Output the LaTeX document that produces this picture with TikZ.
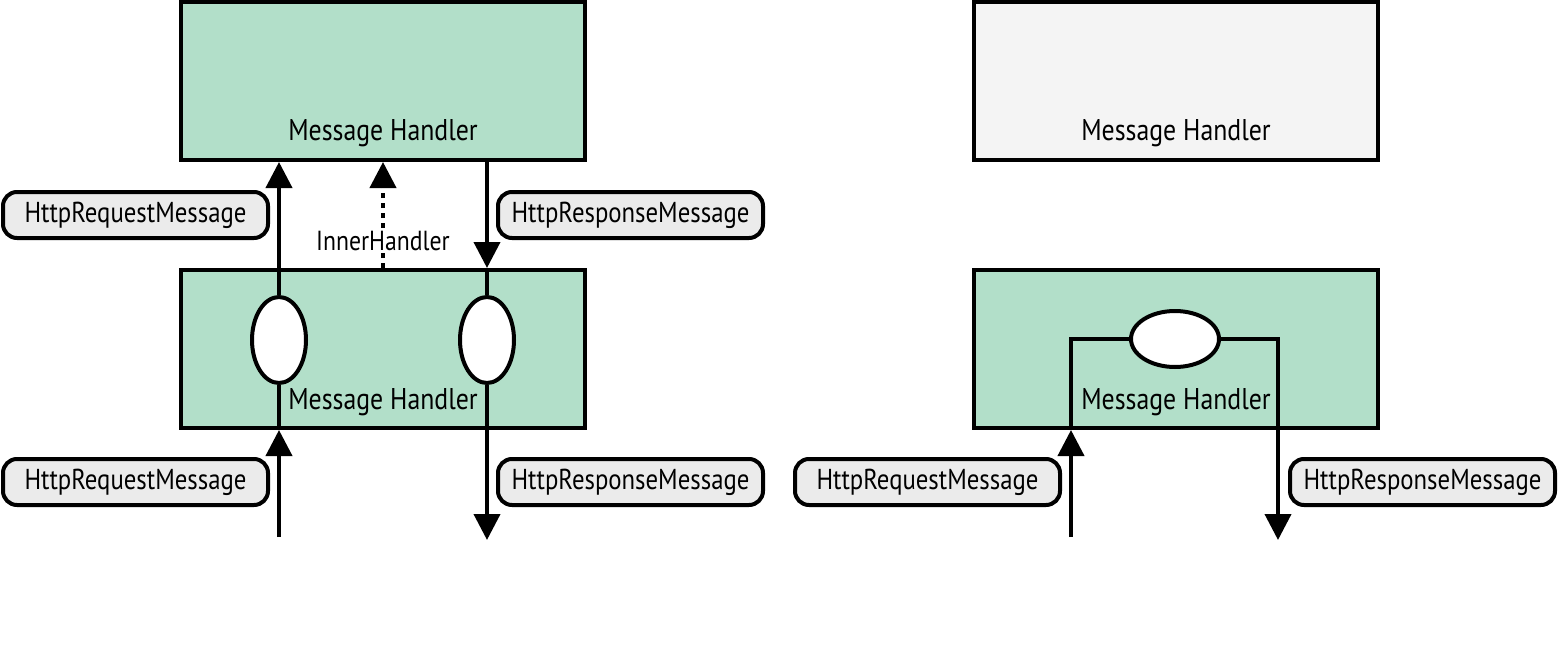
\documentclass[tikz,border=0pt]{standalone}
\usepackage{fontspec}
\setmainfont{PT Sans}[FakeStretch=0.86]
\usetikzlibrary{arrows.meta,shapes.geometric}
\definecolor{mhgreen}{HTML}{B2DFC9}
\definecolor{mhgray}{HTML}{F4F4F4}
\definecolor{pillgray}{HTML}{EBEBEB}
\tikzset{
  handler/.style={draw,line width=2pt,minimum width=202pt,minimum height=79pt,inner sep=0pt},
  pill/.style={draw,line width=2pt,rounded corners=7pt,fill=pillgray,minimum width=132.5pt,minimum height=23pt,inner sep=0pt,font=\fontsize{14.4}{16}\selectfont},
  lbl/.style={font=\fontsize{15}{17}\selectfont,inner sep=0pt},
  small/.style={font=\fontsize{13.8}{16}\selectfont},
  gate/.style={draw,ellipse,line width=2pt,fill=white,inner sep=0pt},
  conn/.style={line width=2pt},
  arr/.style={line width=2pt,-{Triangle[width=13pt,length=13pt]}},
  dotarr/.style={line width=2pt,dash pattern=on 2.5pt off 2.5pt,-{Triangle[width=13pt,length=13pt]}},
}
\begin{document}
\begin{tikzpicture}[x=0.5pt,y=-0.5pt]
\useasboundingbox (0,0) rectangle (1559,648);
% boxes
\node[handler,fill=mhgreen] (tb) at (383,81) {};
\node[handler,fill=mhgreen] (lb) at (383,349) {};
\node[handler,fill=mhgray] (trb) at (1176,81) {};
\node[handler,fill=mhgreen] (rb) at (1176,349) {};
% free ends
\coordinate (r1) at (279,537);
\coordinate (r2) at (487,540);
\coordinate (r3) at (1071,537);
\coordinate (r4) at (1278,540);
% gates
\node[gate,minimum width=27pt,minimum height=43pt] (e1) at (279,340) {};
\node[gate,minimum width=27pt,minimum height=43pt] (e2) at (487,340) {};
\node[gate,minimum width=44pt,minimum height=28pt] (e3) at (1175,339) {};
% left panel connectors
\draw[arr] (r1) -- (r1 |- lb.south);
\draw[conn] (r1 |- lb.south) -- (e1.south);
\draw[arr] (e1.north) -- (e1.north |- tb.south);
\draw[arr] (e2 |- tb.south) -- (e2 |- lb.north);
\draw[conn] (e2 |- lb.north) -- (e2.north);
\draw[arr] (e2.south) -- (r2);
\draw[dotarr] (lb.north) -- (tb.south);
% right panel connectors
\draw[arr] (r3) -- (r3 |- rb.south);
\draw[conn] (r3 |- rb.south) -- (r3 |- e3) -- (e3.west);
\draw[arr] (e3.east) -| (r4);
% texts
\node[lbl] (t1) at (383,133) {Message Handler};
\node[lbl] (t2) at (383,402) {Message Handler};
\node[lbl] (t3) at (1176,133) {Message Handler};
\node[lbl] (t4) at (1176,402) {Message Handler};
\node[lbl,small,fill=white,inner sep=1pt] (ih) at (383,241) {InnerHandler};
% pills
\node[pill] (p1) at (135.5,215) {HttpRequestMessage};
\node[pill] (p2) at (630.5,215) {HttpResponseMessage};
\node[pill] (p3) at (135.5,482) {HttpRequestMessage};
\node[pill] (p4) at (630.5,482) {HttpResponseMessage};
\node[pill] (p5) at (927.5,482) {HttpRequestMessage};
\node[pill] (p6) at (1422.5,482) {HttpResponseMessage};
\end{tikzpicture}
\end{document}
